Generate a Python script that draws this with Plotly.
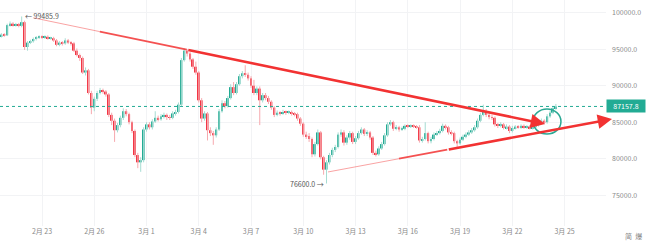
import plotly.graph_objects as go
import pandas as pd

# ---------------- data (4h candles) ----------------
start_time = "2025-02-20 16:00"
first_open = 96800
closes = [97000, 96900, 98300, 98500, 98300, 98400, 98200, 98700, 95300, 95900,
          96100, 96400, 96600, 96700, 96600, 96700, 96500, 96500, 96200, 95600,
          95900, 95800, 96200, 95900, 95800, 94800, 94200, 93800, 91800, 92100,
          89000, 87000, 88200, 89000, 89400, 89200, 88800, 86000, 85200, 83900,
          84600, 85600, 86500, 86100, 85000, 83800, 80500, 79500, 79800, 84000,
          84700, 84300, 85100, 85600, 85400, 85800, 86000, 85700, 85600, 86200,
          86400, 87400, 93500, 94800, 94400, 93600, 92600, 91800, 88000, 85500,
          86200, 83900, 83500, 83200, 84000, 86500, 87600, 87200, 88300, 89800,
          89000, 90200, 91300, 91700, 91500, 91000, 90000, 89000, 89600, 88000,
          88700, 88300, 87800, 87000, 86000, 86300, 86200, 86400, 86300, 86400,
          86200, 86100, 85500, 84800, 83300, 83100, 82700, 80600, 82000, 83600,
          80200, 78500, 79500, 80500, 81200, 81600, 83300, 83600, 82200, 82900,
          83500, 82300, 82800, 83500, 84000, 83400, 83600, 82900, 80800, 80600,
          81400, 82000, 83200, 84700, 85000, 84100, 84300, 84000, 84100, 84500,
          84400, 84500, 84400, 84300, 82500, 82700, 83500, 82400, 82700, 83300,
          83500, 83800, 84500, 84300, 83600, 83500, 82400, 82100, 82600, 83000,
          83300, 83600, 83900, 84300, 85200, 86000, 86500, 86000, 85700, 85600,
          84700, 84500, 84700, 84200, 84400, 83800, 84200, 84400, 84300, 84500,
          84300, 84400, 84200, 84300, 84600, 85000, 85200, 85000, 85800, 86300,
          86900, 87157.8]
highs = [97200, 97200, 98500, 98800, 98700, 98600, 98600, 99485.9, 98900, 96100,
         96300, 96600, 96800, 96900, 96900, 96900, 96900, 96700, 96700, 96400,
         96100, 96100, 96500, 96400, 96100, 96000, 95100, 94400, 94000, 92500,
         92300, 89300, 88500, 89300, 89700, 89600, 89400, 89000, 86300, 85500,
         84900, 85900, 86900, 86800, 86300, 85200, 84000, 80800, 80200, 84300,
         85000, 85000, 85400, 86500, 85900, 86100, 86300, 86200, 86000, 86500,
         86700, 87700, 93800, 95100, 95000, 94600, 93800, 93300, 92000, 88300,
         86500, 86400, 84300, 83800, 84300, 86800, 88000, 87900, 88600, 90200,
         90500, 90500, 91600, 92000, 92800, 91800, 91300, 90800, 89900, 89900,
         89000, 89000, 88600, 88000, 87200, 86600, 86500, 86700, 86600, 86600,
         86600, 86400, 86300, 85700, 85000, 83700, 83500, 82900, 82300, 84000,
         83800, 80400, 79800, 80800, 81500, 81900, 83600, 84000, 83900, 83200,
         83800, 83700, 83100, 83800, 84300, 84200, 83900, 83800, 83100, 81100,
         81700, 82300, 83500, 85000, 85300, 85200, 84600, 84500, 84400, 84700,
         84700, 84700, 84700, 84600, 84600, 83000, 85000, 83700, 83000, 83600,
         83800, 84100, 84800, 84700, 84500, 83900, 83700, 82600, 82900, 83300,
         83600, 83900, 84200, 84600, 85500, 86300, 87400, 86800, 86300, 86000,
         85800, 84900, 85000, 84900, 84700, 84600, 84500, 84600, 84600, 84700,
         84700, 84600, 84600, 84500, 84800, 85300, 85500, 85400, 86100, 86600,
         87200, 87500]
lows = [96600, 96700, 96800, 98100, 98100, 98100, 98000, 98000, 94900, 94800,
        95700, 95900, 96200, 96400, 96400, 96400, 96300, 96300, 96000, 95400,
        95400, 95500, 95600, 95700, 95500, 94600, 94000, 93400, 91600, 91400,
        88800, 86100, 86500, 87900, 88800, 88900, 88500, 85700, 84600, 82300,
        83600, 84300, 85300, 85800, 84700, 83500, 80200, 78700, 78200, 79500,
        83700, 84000, 84000, 84900, 85100, 85200, 85500, 85300, 85300, 85400,
        85900, 86200, 87200, 93300, 94000, 93300, 92300, 91500, 87700, 85000,
        85200, 82500, 83100, 81900, 82900, 83800, 86300, 86900, 87000, 88100,
        88700, 88800, 90000, 91000, 91200, 90700, 89700, 88700, 88700, 84600,
        87700, 88000, 87500, 86700, 85700, 85800, 85900, 86000, 86000, 86100,
        85900, 85800, 85200, 84500, 83000, 82700, 82300, 80200, 80300, 81800,
        79900, 77800, 76600, 79200, 80200, 80900, 81400, 83000, 81800, 81900,
        82600, 82000, 82000, 82600, 83300, 83100, 83100, 82600, 80500, 80300,
        80400, 81200, 81800, 83000, 84500, 83800, 83900, 83700, 83800, 83900,
        84200, 84200, 84200, 84100, 82200, 82200, 82500, 82100, 82100, 82500,
        83100, 83300, 83600, 84000, 83300, 83200, 82100, 81500, 81900, 82400,
        82800, 83100, 83400, 83700, 84100, 85000, 85800, 85700, 85400, 85300,
        84400, 84200, 84300, 84000, 84000, 83500, 83600, 84000, 84100, 84100,
        84100, 84100, 84000, 84000, 84100, 84400, 84800, 84700, 84800, 85600,
        86100, 86700]

x_tick_dates = ["2025-02-23", "2025-02-26", "2025-03-01", "2025-03-04", "2025-03-07",
                "2025-03-10", "2025-03-13", "2025-03-16", "2025-03-19", "2025-03-22",
                "2025-03-25"]
x_tick_labels = ["2月 23", "2月 26", "3月 1", "3月 4", "3月 7", "3月 10", "3月 13",
                 "3月 16", "3月 19", "3月 22", "3月 25"]
y_ticks = [75000, 80000, 85000, 90000, 95000, 100000]
y_tick_labels = ["75000.0", "80000.0", "85000.0", "90000.0", "95000.0", "100000.0"]

last_price = 87157.8
high_label = "99485.9"
low_label = "76600.0"
high_index = 7
low_index = 112

# drawn trend lines (date, price)
upper_start = ("2025-02-22 12:00", 99300)
upper_tip = ("2025-03-23 21:00", 84750)
lower_start = ("2025-03-11 10:00", 78180)
lower_tip = ("2025-03-27 17:20", 85440)
# circle
circle_x = ("2025-03-23 04:30", "2025-03-24 19:00")
circle_y = (83380, 86810)

# ---------------- styling ----------------
UP = "#22ab94"
DN = "#f23645"
UP_W = "#a6dcd2"
DN_W = "#f6a9ae"
RED = "#f23232"
FONT = "Noto Sans CJK SC, Liberation Sans, sans-serif"

times = pd.date_range(start_time, periods=len(closes), freq="4h")
opens = [first_open] + closes[:-1]

fig = go.Figure()

# wicks
wx_up, wy_up, wx_dn, wy_dn = [], [], [], []
for t, o, h, l, c in zip(times, opens, highs, lows, closes):
    if c >= o:
        wx_up += [t, t, None]; wy_up += [l, h, None]
    else:
        wx_dn += [t, t, None]; wy_dn += [l, h, None]
fig.add_trace(go.Scatter(x=wx_up, y=wy_up, mode="lines", line=dict(color=UP_W, width=1), hoverinfo="skip"))
fig.add_trace(go.Scatter(x=wx_dn, y=wy_dn, mode="lines", line=dict(color=DN_W, width=1), hoverinfo="skip"))

# bodies
base = [min(o, c) for o, c in zip(opens, closes)]
height = [max(abs(c - o), 70) for o, c in zip(opens, closes)]
colors = [UP if c >= o else DN for o, c in zip(opens, closes)]
fig.add_trace(go.Bar(x=times, y=height, base=base, marker=dict(color=colors, line=dict(width=0)),
                     width=4 * 3600 * 1000 * 0.68, hoverinfo="skip"))

# last price dashed line
fig.add_shape(type="line", xref="paper", x0=0, x1=1, yref="y", y0=last_price, y1=last_price,
              line=dict(color=UP, width=1, dash="3px,3px"))


def point(a, b, f):
    ta, tb = pd.Timestamp(a[0]), pd.Timestamp(b[0])
    return (ta + (tb - ta) * f, a[1] + (b[1] - a[1]) * f)


def trend(a, b, f1, f2):
    p1 = point(a, b, f1)
    p2 = point(a, b, f2)
    fig.add_trace(go.Scatter(x=[a[0], p1[0]], y=[a[1], p1[1]], mode="lines",
                             line=dict(color="rgba(242,50,50,0.45)", width=1), hoverinfo="skip"))
    fig.add_trace(go.Scatter(x=[p1[0], p2[0]], y=[p1[1], p2[1]], mode="lines",
                             line=dict(color="rgba(242,50,50,0.85)", width=1.8), hoverinfo="skip"))
    fig.add_annotation(x=b[0], y=b[1], ax=p2[0], ay=p2[1], xref="x", yref="y", axref="x", ayref="y",
                       text="", showarrow=True, arrowhead=2, arrowsize=1.1, arrowwidth=2.6,
                       arrowcolor=RED, standoff=0)


trend(upper_start, upper_tip, 0.13, 0.3)
trend(lower_start, lower_tip, 0.25, 0.42)

# circle
fig.add_shape(type="circle", xref="x", yref="y", x0=circle_x[0], x1=circle_x[1],
              y0=circle_y[0], y1=circle_y[1], line=dict(color="#2aa893", width=1.5))

# high / low labels
fig.add_annotation(x=times[high_index], y=highs[high_index], text="← " + high_label, showarrow=False,
                   xanchor="left", yanchor="middle", xshift=1, font=dict(size=7, color="#555", family=FONT))
fig.add_annotation(x=times[low_index], y=lows[low_index], text=low_label + " →", showarrow=False,
                   xanchor="right", yanchor="middle", xshift=-1, font=dict(size=7, color="#555", family=FONT))

# last price label
fig.add_annotation(xref="paper", x=1, y=last_price, text=f"{last_price:.1f}", showarrow=False,
                   xanchor="left", yanchor="middle", bgcolor=UP, width=36, height=10, borderpad=1,
                   font=dict(size=7, color="white", family=FONT))

# bottom-right text
fig.add_annotation(xref="paper", yref="paper", x=1.046, y=-0.045, text="简  爆", showarrow=False,
                   xanchor="center", yanchor="middle", font=dict(size=7, color="#888", family=FONT))

fig.update_layout(
    width=650, height=243,
    margin=dict(l=0, r=44, t=0, b=17),
    paper_bgcolor="white", plot_bgcolor="white",
    showlegend=False,
    xaxis=dict(type="date", range=["2025-02-20 14:08", "2025-03-27 09:03"],
               tickvals=x_tick_dates, ticktext=x_tick_labels,
               showgrid=True, gridcolor="#f2f3f5", gridwidth=1, zeroline=False, showline=False,
               ticks="", tickfont=dict(size=7, color="#8a8a8a", family=FONT), fixedrange=True),
    yaxis=dict(side="right", range=[70778, 101740], tickvals=y_ticks, ticktext=y_tick_labels,
               showgrid=True, gridcolor="#f2f3f5", gridwidth=1, zeroline=False, showline=False,
               ticks="", ticklabelstandoff=5,
               tickfont=dict(size=7, color="#8a8a8a", family=FONT), fixedrange=True),
)

fig.write_html("out.html")
